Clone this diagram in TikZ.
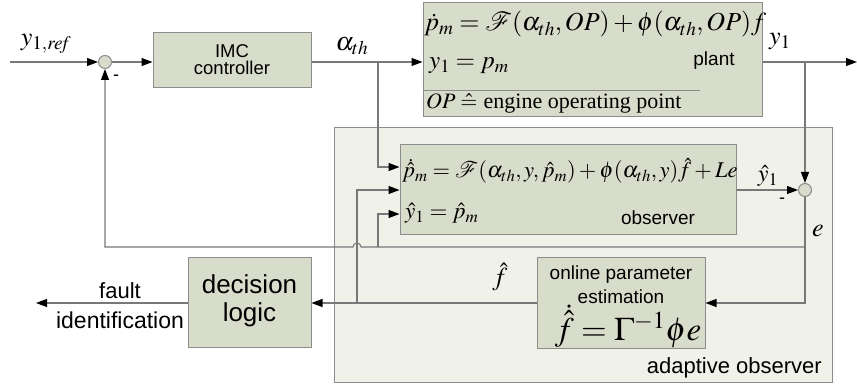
\documentclass[tikz,border=0pt]{standalone}
\usepackage{amsmath,amssymb}
\usepackage{mathptmx}
\usepackage[no-math]{fontspec}
\setmainfont{Liberation Sans}
\newfontfamily\serifrm{Liberation Serif}
\usetikzlibrary{arrows.meta}
\definecolor{boxfill}{RGB}{216,220,202}
\definecolor{outerfill}{RGB}{240,241,232}
\definecolor{bordergray}{RGB}{140,140,140}
\definecolor{linegray}{RGB}{120,120,120}
\newcommand{\fs}[1]{\fontsize{#1}{#1}\selectfont}
\begin{document}
\begin{tikzpicture}[x=1pt,y=-1pt,
  blk/.style={draw=bordergray, fill=boxfill, line width=1pt, inner sep=0pt},
  outerblk/.style={draw=bordergray, fill=outerfill, line width=1pt, inner sep=0pt},
  sumj/.style={circle, draw=bordergray, fill=boxfill, line width=1pt, minimum size=13pt, inner sep=0pt},
  wire/.style={draw=linegray, line width=1.1pt},
  arr/.style={wire, -{Triangle[length=11pt,width=8pt,color=black]}},
  lbl/.style={inner sep=0pt},
]
\fill[white] (0,0) rectangle (857,390);
\useasboundingbox (0,0) rectangle (857,390);

% outer adaptive observer box
\node[outerblk, minimum width=498pt, minimum height=254pt] (adapt) at (583,255) {};
\node[lbl, anchor=east] (adlbl) at (822,368) {\fs{22}adaptive observer};

% blocks
\node[blk, minimum width=158pt, minimum height=55pt] (imc) at (232,60.5) {};
\node[lbl] (imct) at (232,62) {\fs{18.5}\begin{tabular}{@{}c@{}}IMC\\[-2pt]controller\end{tabular}};

\node[blk, minimum width=339pt, minimum height=114pt] (plant) at (592.5,60) {};
\node[lbl, anchor=base west] (peq1) at (424,31) {\fs{26}$\dot p_m=\mathcal{F}(\alpha_{th},OP)+\phi(\alpha_{th},OP)f$};
\node[lbl, anchor=base west] (peq2) at (429,69) {\fs{25}$y_1=p_m$};
\node[lbl, anchor=base] (plbl) at (714,66) {\fs{19}plant};
\coordinate (sepR) at (700,90);
\draw[draw=bordergray, line width=0.9pt] (plant.west |- sepR) -- (sepR);
\node[lbl, anchor=base west] (op) at (426,109) {\fs{22}$OP\mathrel{\hat{=}}$ {\serifrm engine operating point}};

\node[blk, minimum width=336pt, minimum height=90pt] (obs) at (568,190) {};
\node[lbl, anchor=base west] (oeq1) at (402,178) {\fs{22.5}$\dot{\hat p}_m=\mathcal{F}(\alpha_{th},y,\hat p_m)+\phi(\alpha_{th},y)\hat f+Le$};
\node[lbl, anchor=base west] (oeq2) at (405,219) {\fs{23}$\hat y_1=\hat p_m$};
\node[lbl, anchor=base] (olbl) at (658,225) {\fs{19}observer};

\node[blk, minimum width=168pt, minimum height=90pt] (onl) at (621,303) {};
\node[lbl] (ont1) at (621,275) {\fs{19}online parameter};
\node[lbl] (ont2) at (621,297) {\fs{19}estimation};
\node[lbl, anchor=base] (ont3) at (628,340) {\fs{33}$\dot{\hat f}\;{=}\;\Gamma^{-1}\phi e$};

\node[blk, minimum width=123pt, minimum height=89pt] (dec) at (249.5,302.5) {};
\node[lbl] (dect) at (249.5,302) {\fs{26}\begin{tabular}{@{}c@{}}decision\\[2pt]logic\end{tabular}};

% summing junctions
\node[sumj] (s1) at (105,62) {};
\node[sumj] (s2) at (805,190) {};

% coordinates
\coordinate (in) at (10,62);
\coordinate (b1) at (378,62);
\coordinate (b2) at (805,62);
\coordinate (out) at (857,62);
\coordinate (ec) at (805,303);
\coordinate (fb) at (805,247);
\coordinate (hopR) at (361,247);
\coordinate (fbc) at (105,247);
\coordinate (fh) at (357,303);
\coordinate (yb) at (378,247);
\coordinate (fo) at (36,303);

% signal lines
\draw[arr] (in) -- (s1.west);
\draw[arr] (s1.east) -- (imc.west |- s1);
\draw[arr] (imc.east |- s1) -- (plant.west |- s1);
\draw[arr] (plant.east |- s1) -- (out);
\draw[arr] (b1) |- (obs.west |- 0,167);
\draw[arr] (b2) -- (s2.north);
\draw[arr] (obs.east |- s2) -- (s2.west);
\draw[arr] (s2.south) |- (onl.east |- ec);
\draw[arr] (fb) -- (hopR) arc[start angle=0, end angle=180, radius=4pt] -- (fbc) -- (s1.south);
\draw[arr] (onl.west |- fh) -- (dec.east |- fh);
\draw[arr] (fh) |- (obs.west |- 0,190);
\draw[arr] (yb) |- (obs.west |- 0,214);
\draw[arr] (dec.west |- fh) -- (fo);

% labels
\node[lbl] (lyref) at (46,44) {\fs{26}$y_{1,\mathit{ref}}$};
\node[lbl] (lalpha) at (352,46) {\fs{26}$\alpha_{th}$};
\node[lbl] (ly1) at (780,42) {\fs{26}$y_1$};
\node[lbl] (lyh) at (768,176) {\fs{24}$\hat y_1$};
\node[lbl] (le) at (818,231) {\fs{26}$e$};
\node[lbl] (lfh) at (500,277) {\fs{26}$\hat f$};
\node[lbl] (m1) at (116,78) {\fs{18}-};
\node[lbl] (m2) at (782,201) {\fs{18}-};
\node[lbl] (lfault) at (120,291) {\fs{22}fault};
\node[lbl] (lident) at (120,320) {\fs{23}identification};
\end{tikzpicture}
\end{document}
